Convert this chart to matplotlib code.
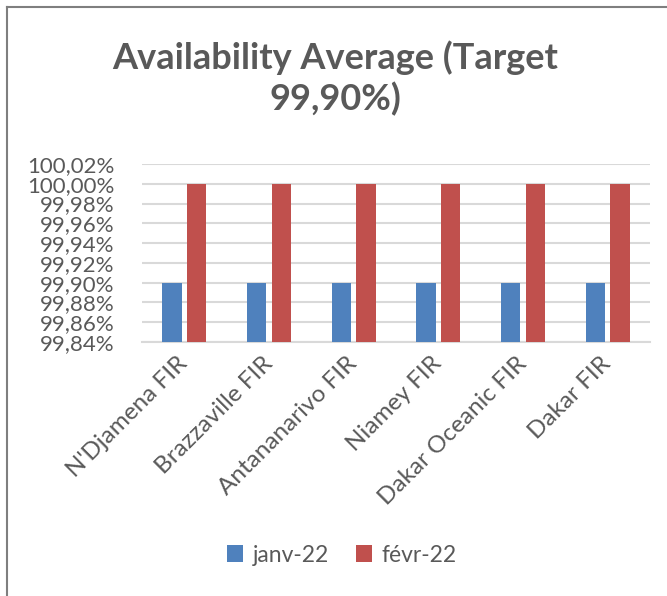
import matplotlib
matplotlib.use("Agg")
import matplotlib.pyplot as plt
from matplotlib.lines import Line2D
import numpy as np

categories = ["N'Djamena FIR", "Brazzaville FIR", "Antananarivo FIR", "Niamey FIR",
              "Dakar Oceanic FIR", "Dakar FIR"]
series_names = ["janv-22", "févr-22"]
janv = [99.90, 99.90, 99.90, 99.90, 99.90, 99.90]
fevr = [100.00, 100.00, 100.00, 100.00, 100.00, 100.00]
yticks = [99.84, 99.86, 99.88, 99.90, 99.92, 99.94, 99.96, 99.98, 100.00, 100.02]
ytick_labels = ["99,84%", "99,86%", "99,88%", "99,90%", "99,92%", "99,94%",
                "99,96%", "99,98%", "100,00%", "100,02%"]
title = "Availability Average (Target\n99,90%)"

plt.rcParams['font.family'] = ['Lato', 'DejaVu Sans']
TXT = "#595959"
BLUE = "#4F81BD"
RED = "#C0504D"
GRID = "#D9D9D9"

W, H = 667, 596
fig = plt.figure(figsize=(W / 100, H / 100), dpi=100)
ax = fig.add_axes([142 / W, 1 - 342 / H, (650 - 142) / W, (342 - 164) / H])

x = np.arange(len(categories))
bw = 0.23
off = 0.145
base = yticks[0]
ax.bar(x - off, np.array(janv) - base, bw, bottom=base, color=BLUE, label=series_names[0], zorder=3)
ax.bar(x + off, np.array(fevr) - base, bw, bottom=base, color=RED, label=series_names[1], zorder=3)

ax.set_xlim(-0.5, len(categories) - 0.5)
ax.set_ylim(yticks[0], yticks[-1])
ax.set_yticks(yticks)
ax.set_yticklabels(ytick_labels, fontsize=16, color=TXT)
ax.set_xticks(x)
ax.set_xticklabels(categories, rotation=45, ha='right', va='center',
                   rotation_mode='anchor', fontsize=17.5, color=TXT)
ax.tick_params(axis='y', length=0, pad=20)
ax.tick_params(axis='x', length=0, pad=13)
ax.grid(axis='y', color=GRID, linewidth=1.5, zorder=0)
for s in ['top', 'right', 'left']:
    ax.spines[s].set_visible(False)
ax.spines['bottom'].set_color(GRID)
ax.spines['bottom'].set_linewidth(1.5)

fig.text(335 / W, 1 - 78 / H, title, ha='center', va='center', fontsize=26,
         fontweight='bold', color=TXT, linespacing=1.25)

leg = fig.legend(loc='center', bbox_to_anchor=(342 / W, 1 - 555 / H), ncol=2,
                 frameon=False, fontsize=16.5, handlelength=0.7, handleheight=0.7,
                 handletextpad=0.4, columnspacing=1.2)
for t in leg.get_texts():
    t.set_color(TXT)

fig.add_artist(Line2D([7 / W, 7 / W], [0, 1 - 7 / H], transform=fig.transFigure,
                      color="#7F7F7F", linewidth=1.5))
fig.add_artist(Line2D([7 / W, 1], [1 - 7 / H, 1 - 7 / H], transform=fig.transFigure,
                      color="#7F7F7F", linewidth=1.5))

fig.savefig("out.png", dpi=100)
